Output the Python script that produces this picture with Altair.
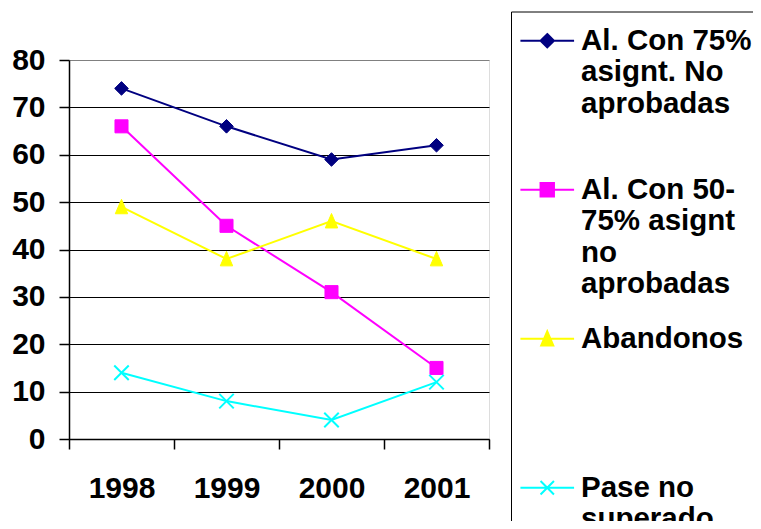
import json
import altair as alt
import pandas as pd

# ---- data ----
years = ["1998", "1999", "2000", "2001"]
series = [
    "Al. Con 75% asignt. No aprobadas",
    "Al. Con 50-75% asignt no aprobadas",
    "Abandonos",
    "Pase no superado",
]
legend_lines = [
    ["Al. Con 75%", "asignt. No", "aprobadas"],
    ["Al. Con 50-", "75% asignt", "no", "aprobadas"],
    ["Abandonos"],
    ["Pase no", "superado"],
]
al_75 = [74, 66, 59, 62]
al_50_75 = [66, 45, 31, 15]
abandonos = [49, 38, 46, 38]
pase = [14, 8, 4, 12]
y_ticks = [0, 10, 20, 30, 40, 50, 60, 70, 80]

values = [al_75, al_50_75, abandonos, pase]
rows = []
for s, vals in zip(series, values):
    for yr, v in zip(years, vals):
        rows.append({"year": yr, "value": v, "series": s})
df = pd.DataFrame(rows)

# ---- styles ----
FONT = "Liberation Sans"
colors = ["#000080", "#FF00FF", "#FFFF00", "#00FFFF"]
marker_paths = [
    "M0,-1L1,0L0,1L-1,0Z",
    "M-1,-1H1V1H-1Z",
    "M0,-1.1L0.9,1H-0.9Z",
    "M-1,-1L1,1M1,-1L-1,1",
]
marker_sizes = [185, 170, 190, 210]
marker_filled = [True, True, True, False]
legend_paths = [p + "M-4,0H4" for p in marker_paths]

x_enc = alt.X(
    "year:O",
    sort=years,
    scale=alt.Scale(type="band", paddingInner=0, paddingOuter=0),
    axis=alt.Axis(
        title=None, labelAngle=0, tickBand="extent", tickSize=10,
        labelPadding=24, labelFont=FONT, labelFontSize=30,
        labelFontWeight="bold", labelColor="black", domainColor="black",
        tickColor="black", domainWidth=1.5, tickWidth=1.5, grid=False,
        zindex=1,
    ),
)
y_enc = alt.Y(
    "value:Q",
    scale=alt.Scale(domain=[0, 80], nice=False),
    axis=alt.Axis(
        title=None, values=y_ticks, tickSize=10, labelPadding=14,
        labelFont=FONT, labelFontSize=30, labelFontWeight="bold",
        labelColor="black", domainColor="black", tickColor="black",
        domainWidth=1.5, tickWidth=1.5, grid=True,
        gridColor={"condition": {"test": "datum.value === 80", "value": "#808080"},
                   "value": "#000000"},
        gridWidth=1.2, zindex=0,
    ),
)

base = alt.Chart(df).encode(x=x_enc, y=y_enc)

layers = []
for s, c in zip(series, colors):
    layers.append(
        base.transform_filter(alt.datum.series == s)
        .mark_line(color=c, strokeWidth=2)
    )
for s, c, p, sz, f in zip(series, colors, marker_paths, marker_sizes, marker_filled):
    sel = base.transform_filter(alt.datum.series == s)
    if f:
        layers.append(sel.mark_point(shape=p, size=sz, filled=True, fill=c,
                                     stroke=c, strokeWidth=1, opacity=1))
    else:
        layers.append(sel.mark_point(shape=p, size=sz, filled=False, stroke=c,
                                     strokeWidth=2, opacity=1))

label_map = json.dumps(dict(zip(series, legend_lines)))
leg = alt.Legend(
    title=None, orient="none", legendX=442, legendY=-48.5,
    direction="vertical", columns=1, gridAlign="all",
    padding=14.5, rowPadding=24, symbolOffset=7, labelOffset=19,
    symbolSize=180, symbolStrokeWidth=2,
    labelFont=FONT, labelFontSize=29.5, labelFontWeight="bold",
    labelColor="black", labelLimit=400, labelExpr=label_map + "[datum.label]",
    strokeColor="black", fillColor="white",
)
legend_layer = (
    base.transform_filter("false")
    .mark_point(filled=True, size=180, strokeWidth=2, opacity=1)
    .encode(
        fill=alt.Fill("series:N", sort=series,
                      scale=alt.Scale(domain=series, range=colors), legend=leg),
        stroke=alt.Stroke("series:N", sort=series,
                          scale=alt.Scale(domain=series, range=colors), legend=leg),
        shape=alt.Shape("series:N", sort=series,
                        scale=alt.Scale(domain=series, range=legend_paths), legend=leg),
    )
)
layers.append(legend_layer)

chart = (
    alt.layer(*layers)
    .properties(
        width=420, height=379, autosize="none",
        padding={"left": 61, "top": 52, "right": 264, "bottom": 82},
    )
    .configure_view(fill="#C0C0C0", stroke="#808080", strokeWidth=1.5)
    .configure(font=FONT, background="white")
)

chart.save("out.html", embed_options={"renderer": "svg", "actions": False})
